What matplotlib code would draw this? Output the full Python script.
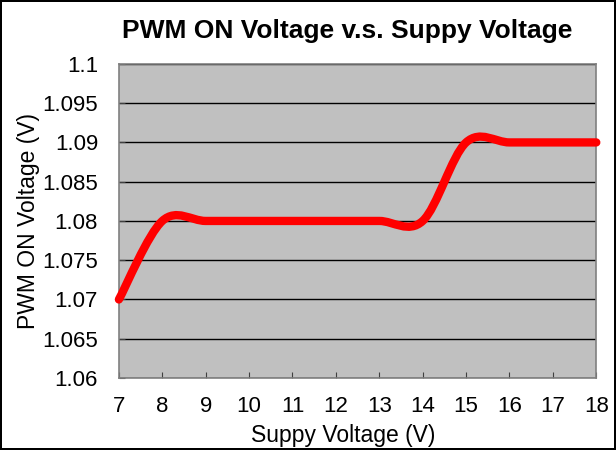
import matplotlib.pyplot as plt
import numpy as np
from matplotlib.path import Path
import matplotlib.patches as mpatches

plt.rcParams['font.family'] = ['Liberation Sans', 'DejaVu Sans']

supply_v = [7, 8, 9, 10, 11, 12, 13, 14, 15, 16, 17, 18]
pwm_on_v = [1.07, 1.08, 1.08, 1.08, 1.08, 1.08, 1.08, 1.08, 1.09, 1.09, 1.09, 1.09]

# smoothed line like Excel: cubic bezier segments (Catmull-Rom control points)
pts = np.column_stack([supply_v, pwm_on_v]).astype(float)
verts = [pts[0]]
codes = [Path.MOVETO]
n = len(pts)
for i in range(n - 1):
    p_prev = pts[i - 1] if i > 0 else pts[i]
    p_next2 = pts[i + 2] if i + 2 < n else pts[i + 1]
    c1 = pts[i] + (pts[i + 1] - p_prev) / 6
    c2 = pts[i + 1] - (p_next2 - pts[i]) / 6
    verts += [c1, c2, pts[i + 1]]
    codes += [Path.CURVE4] * 3

fig = plt.figure(figsize=(6.16, 4.5), dpi=100)
fig.patch.set_edgecolor('black')
fig.patch.set_linewidth(1.5)
ax = fig.add_axes([0.193, 0.16, 0.775, 0.698])
ax.set_facecolor('#C0C0C0')

ax.add_patch(mpatches.PathPatch(Path(verts, codes), facecolor='none', edgecolor='#FF0000',
                                lw=6, capstyle='round', joinstyle='round', zorder=3, clip_on=False))

ax.set_xlim(7, 18)
ax.set_ylim(1.06, 1.1)
ax.set_xticks(supply_v)
yt = np.round(np.arange(1.06, 1.1001, 0.005), 3)
ax.set_yticks(yt)
ax.set_yticklabels([f"{v:g}" for v in yt])
ax.yaxis.grid(True, color='black', lw=1)
ax.set_axisbelow(True)
ax.tick_params(axis='both', direction='in', length=4, color='#404040')
ax.tick_params(axis='x', pad=13, labelsize=16)
ax.tick_params(axis='y', pad=15, labelsize=16)
for s in ax.spines.values():
    s.set_color('#808080')
    s.set_linewidth(1.2)

ax.set_title("PWM ON Voltage v.s. Suppy Voltage", fontsize=19, fontweight='bold', pad=19, x=0.478)
ax.set_xlabel("Suppy Voltage (V)", fontsize=16.5)
ax.xaxis.set_label_coords(0.47, -0.148)
ax.set_ylabel("PWM ON Voltage (V)", fontsize=16.5, labelpad=2)

plt.savefig("out.png", dpi=100, edgecolor=fig.get_edgecolor())
